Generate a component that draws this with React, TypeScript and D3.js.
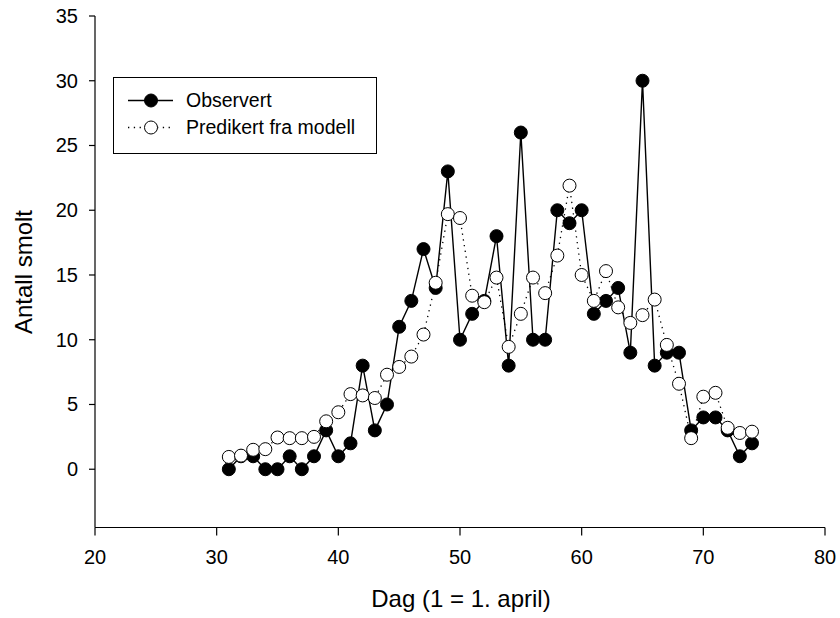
import React from "react";
import * as d3 from "d3";

const days = [31,32,33,34,35,36,37,38,39,40,41,42,43,44,45,46,47,48,49,50,51,52,53,54,55,56,57,58,59,60,61,62,63,64,65,66,67,68,69,70,71,72,73,74];
const observed = [0,1,1,0,0,1,0,1,3,1,2,8,3,5,11,13,17,14,23,10,12,13,18,8,26,10,10,20,19,20,12,13,14,9,30,8,9,9,3,4,4,3,1,2];
const predicted = [0.95,1.05,1.5,1.55,2.45,2.4,2.4,2.5,3.7,4.4,5.8,5.7,5.5,7.3,7.9,8.7,10.4,14.4,19.7,19.4,13.4,12.9,14.8,9.45,12.0,14.8,13.6,16.5,21.9,15.0,13.0,15.3,12.5,11.3,11.9,13.1,9.6,6.6,2.4,5.6,5.9,3.2,2.8,2.9];
const xTicks = [20,30,40,50,60,70,80];
const yTicks = [0,5,10,15,20,25,30,35];
const seriesNames = ["Observert", "Predikert fra modell"];
const xTitle = "Dag (1 = 1. april)";
const yTitle = "Antall smolt";

export default function App() {
  const W = 840, H = 618;
  const left = 95, right = 825, top = 16, bottom = 527.5;
  const x = d3.scaleLinear().domain([20, 80]).range([left, right]);
  const y = d3.scaleLinear().domain([-4.5, 35]).range([bottom, top]);
  const font = "'Liberation Sans', Arial, sans-serif";
  const obsPts = days.map((d, i) => [d, observed[i]] as [number, number]);
  const predPts = days.map((d, i) => [d, predicted[i]] as [number, number]);
  const line = d3.line<[number, number]>().x(p => x(p[0])).y(p => y(p[1]));
  const r = 6.5;
  return (
    <svg width={W} height={H} style={{ position: "absolute", left: 0, top: 0, background: "#fff" }} fontFamily={font}>
      {/* axes */}
      <line x1={left} x2={left} y1={top} y2={bottom} stroke="#000" strokeWidth={1.2} />
      <line x1={left} x2={right} y1={bottom} y2={bottom} stroke="#000" strokeWidth={1.2} />
      {yTicks.map(t => (
        <g key={"y" + t}>
          <line x1={left - 6} x2={left} y1={y(t)} y2={y(t)} stroke="#000" strokeWidth={1.2} />
          <text x={78} y={y(t)} dy="0.35em" textAnchor="end" fontSize={20}>{t}</text>
        </g>
      ))}
      {xTicks.map(t => (
        <g key={"x" + t}>
          <line x1={x(t)} x2={x(t)} y1={bottom} y2={bottom + 8} stroke="#000" strokeWidth={1.2} />
          <text x={x(t)} y={564} textAnchor="middle" fontSize={20}>{t}</text>
        </g>
      ))}
      <text x={461} y={607} textAnchor="middle" fontSize={24}>{xTitle}</text>
      <text transform={`translate(32,272) rotate(-90)`} textAnchor="middle" fontSize={24}>{yTitle}</text>

      {/* observed */}
      <path d={line(obsPts) || ""} fill="none" stroke="#000" strokeWidth={1.4} />
      {obsPts.map((p, i) => (
        <circle key={"o" + i} cx={x(p[0])} cy={y(p[1])} r={r} fill="#000" stroke="#000" strokeWidth={1} />
      ))}
      {/* predicted */}
      <path d={line(predPts) || ""} fill="none" stroke="#000" strokeWidth={1.3} strokeDasharray="1.3,4.5" />
      {predPts.map((p, i) => (
        <circle key={"p" + i} cx={x(p[0])} cy={y(p[1])} r={r} fill="#fff" stroke="#000" strokeWidth={1} />
      ))}

      {/* legend */}
      <rect x={113.5} y={77.5} width={263} height={76} fill="#fff" stroke="#000" strokeWidth={1} />
      <line x1={128} x2={173} y1={100.5} y2={100.5} stroke="#000" strokeWidth={1.4} />
      <circle cx={151} cy={100.5} r={r} fill="#000" stroke="#000" strokeWidth={1} />
      <text x={186} y={100.5} dy="0.35em" fontSize={19.5}>{seriesNames[0]}</text>
      <line x1={128} x2={173} y1={127.5} y2={127.5} stroke="#000" strokeWidth={1.3} strokeDasharray="1.3,4.5" />
      <circle cx={151} cy={127.5} r={r} fill="#fff" stroke="#000" strokeWidth={1} />
      <text x={186} y={127.5} dy="0.35em" fontSize={19.5}>{seriesNames[1]}</text>
    </svg>
  );
}
